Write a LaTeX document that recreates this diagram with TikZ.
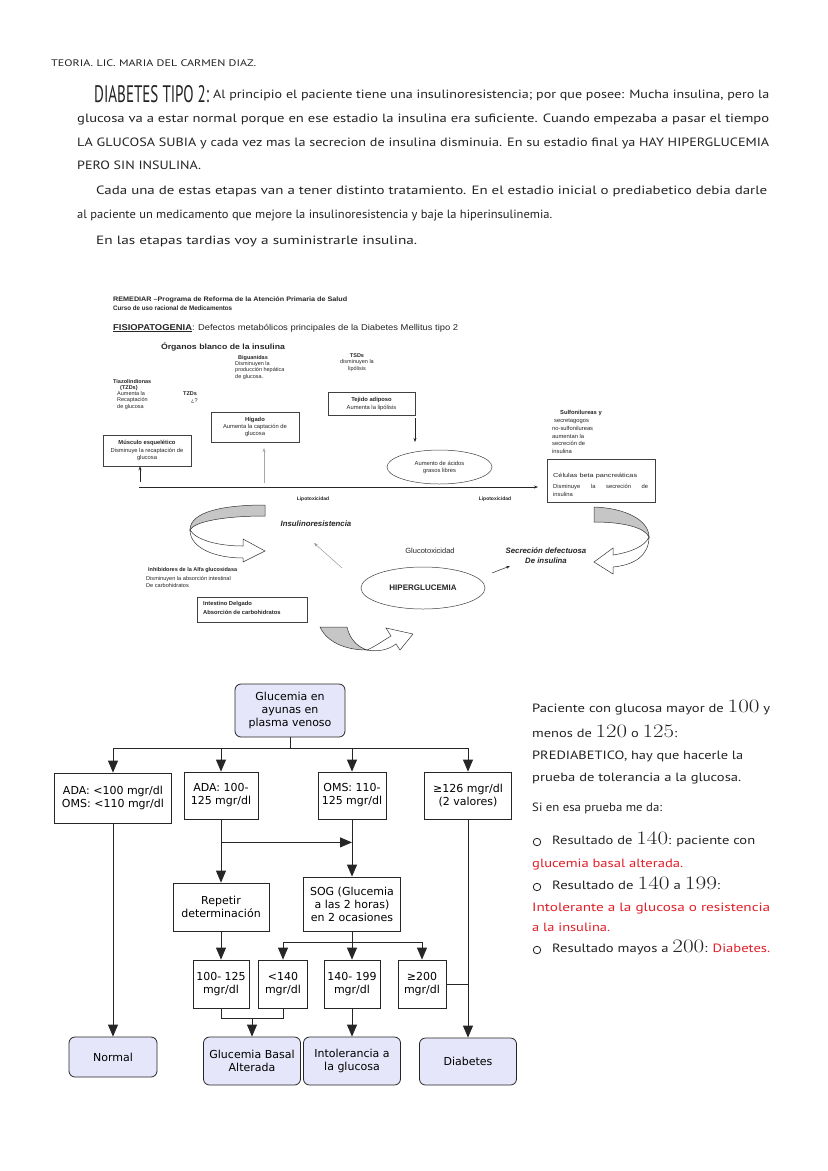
\documentclass[tikz,border=0pt]{standalone}
\usepackage{fontspec}
\usepackage{graphicx}
\newfontfamily\hw{PT Sans}
\newfontfamily\ar{Liberation Sans}
\newfontfamily\dv{DejaVu Sans}
\usetikzlibrary{arrows.meta,shapes.geometric}
\definecolor{lav}{RGB}{230,230,250}
\definecolor{hwred}{RGB}{225,30,40}
\definecolor{ink}{RGB}{35,35,35}
\newcommand\nm[1]{{\rmfamily\fontsize{19}{19}\selectfont #1}}
\newcommand\fitw[2]{\resizebox{#1pt}{\height}{#2}}
\begin{document}
\begin{tikzpicture}[x=1pt,y=-1pt,
 hwt/.style={inner sep=0pt, anchor=base west, font=\hw\fontsize{12}{14}\selectfont, text=ink},
 art/.style={inner sep=0pt, text=black!85, font=\ar\fontsize{5.5}{6.6}\selectfont},
 artb/.style={art, font=\ar\bfseries\fontsize{5.5}{6.6}\selectfont},
 abox/.style={draw=black!75, line width=0.5pt, inner sep=0pt, align=center, text=black!85, font=\ar\fontsize{5.5}{7}\selectfont},
 rib/.style={draw=black!80, line width=0.5pt},
 marr/.style={draw=black!85, line width=0.5pt, -{Stealth[length=4pt,width=3pt]}},
 fc/.style={draw=black!85, line width=0.8pt, fill=white, inner sep=0pt, align=center, font=\dv\fontsize{11}{13}\selectfont},
 fcr/.style={fc, rounded corners=6pt, fill=lav},
 fl/.style={draw=black!85, line width=0.8pt},
 arr/.style={fl, -{Triangle[length=12pt,width=10pt]}}
]
\useasboundingbox (0,0) rectangle (828,1171);
\fill[white] (0,0) rectangle (828,1171);

% ---------------- top handwritten text ----------------
\node[hwt] (hdr) at (51,66) {\fitw{205}{\fontsize{9.5}{10}\selectfont TEORIA. LIC. MARIA DEL CARMEN DIAZ.}};
\node[hwt] (dt) at (94,102) {\resizebox{115pt}{17pt}{DIABETES TIPO 2:}};
\node[hwt] (l1) at (213,98) {\fitw{556}{Al principio el paciente tiene una insulinoresistencia; por que posee: Mucha insulina, pero la}};
\node[hwt] (l2) at (77,122) {\fitw{692}{glucosa va a estar normal porque en ese estadio la insulina era suficiente. Cuando empezaba a pasar el tiempo}};
\node[hwt] (l3) at (77,146) {\fitw{692}{LA GLUCOSA SUBIA y cada vez mas la secrecion de insulina disminuia. En su estadio final ya HAY HIPERGLUCEMIA}};
\node[hwt] (l4) at (77,169) {\fitw{124}{PERO SIN INSULINA.}};
\node[hwt] (p2a) at (96,194) {\fitw{671}{Cada una de estas etapas van a tener distinto tratamiento. En el estadio inicial o prediabetico debia darle}};
\node[hwt] (p2b) at (77,218) {\fitw{475}{al paciente un medicamento que mejore la insulinoresistencia y baje la hiperinsulinemia.}};
\node[hwt] (p3) at (96,244) {\fitw{321}{En las etapas tardias voy a suministrarle insulina.}};

% ---------------- middle figure (REMEDIAR) ----------------
\node[art, anchor=west, font=\ar\bfseries\fontsize{6.5}{7.5}\selectfont] (rem1) at (113,300) {\fitw{234}{REMEDIAR –Programa de Reforma de la Atención Primaria de Salud}};
\node[art, anchor=west, font=\ar\bfseries\fontsize{6.5}{7.5}\selectfont] (rem2) at (113,308) {\fitw{119}{Curso de uso racional de Medicamentos}};
\node[art, anchor=west, font=\ar\fontsize{8.5}{10}\selectfont] (fisio) at (113,328) {\fitw{345}{\textbf{\underline{FISIOPATOGENIA}}: Defectos metabólicos principales de la Diabetes Mellitus tipo 2}};
\node[art, font=\ar\bfseries\fontsize{7.6}{9}\selectfont] (org) at (223,347) {\fitw{124}{Órganos blanco de la insulina}};

\node[artb] (big) at (253,358) {Biguanidas};
\node[art, anchor=west, align=left] (bigt) at (235,370.5) {Disminuyen la\\producción hepática\\de glucosa.};
\node[art, align=center] (tsd) at (357,362.5) {\textbf{TSDs}\\disminuyen la\\lipólisis};
\node[artb, anchor=west] (tia) at (113,382) {Tiazolindionas};
\node[artb, anchor=west] (tia2) at (120,388) {(TZDs)};
\node[art, anchor=west, align=left] (tia3) at (117,400.5) {Aumenta la\\Recaptación\\de glucosa};
\node[artb, anchor=west] (tzd) at (183,394) {TZDs};
\node[art, anchor=west] (qq) at (191,401) {¿?};

\node[abox, minimum width=87, minimum height=23, font=\ar\fontsize{5.8}{8}\selectfont] (tej) at (371.5,403.5) {\textbf{Tejido adiposo}\\Aumenta la lipólisis};
\node[abox, minimum width=88, minimum height=30, font=\ar\fontsize{5.8}{7}\selectfont] (hig) at (255,427) {\textbf{Hígado}\\Aumenta la captación de\\glucosa};
\node[abox, minimum width=88, minimum height=31, font=\ar\fontsize{5.8}{7.5}\selectfont] (mus) at (147,450.5) {\textbf{Músculo esquelético}\\Disminuye la recaptación de\\glucosa};
\node[abox, ellipse, minimum width=105, minimum height=34, font=\ar\fontsize{5.8}{7}\selectfont] (agl) at (439.5,467) {Aumento de ácidos\\grasos libres};

\node[art, align=left, anchor=west, font=\ar\fontsize{5.8}{7.9}\selectfont] (sulf) at (552,432) {\hspace*{8pt}\textbf{Sulfonilureas y}\\\hspace*{2pt}secretagogos\\no-sulfonilureas\\aumentan la\\secreción de\\insulina};
\node[abox, minimum width=108, minimum height=43] (cel) at (601,480.5) {};
\node[art, anchor=west, font=\ar\fontsize{5.8}{7}\selectfont] (cel1) at (553,476) {\fitw{84}{Células beta pancreáticas}};
\node[art, anchor=west, font=\ar\fontsize{5.8}{7}\selectfont] (cel2) at (553,487) {\makebox[95pt][s]{Disminuye la secreción de}};
\node[art, anchor=west, font=\ar\fontsize{5.8}{7}\selectfont] (cel3) at (553,494) {insulina};

\coordinate (hl0) at (139,487);
\coordinate (hl1) at (538,487);
\draw[marr] (hl0) -- (hl1);
\coordinate (ma0) at (140,482);
\draw[marr] (ma0) -- (mus.south -| ma0);
\coordinate (ha0) at (264,483);
\coordinate (ha1) at (264,448);
\draw[marr, draw=gray!70] (ha0) -- (ha1);
\coordinate (ta0) at (415,418);
\coordinate (ta1) at (415,442);
\draw[marr] (ta0) -- (ta1);

\node[artb, font=\ar\bfseries\fontsize{5}{6}\selectfont] (lip1) at (313,499) {Lipotoxicidad};
\node[artb, font=\ar\bfseries\fontsize{5}{6}\selectfont] (lip2) at (495,499) {Lipotoxicidad};
\node[art, font=\ar\bfseries\itshape\fontsize{7.8}{9}\selectfont] (ires) at (316,524) {Insulinoresistencia};

\node[artb, anchor=west] (inh) at (148,570) {Inhibidores de la Alfa glucosidasa};
\node[art, anchor=west, align=left, font=\ar\fontsize{5.6}{7}\selectfont] (inh2) at (146,581.5) {Disminuyen la absorción intestinal\\De carbohidratos};
\node[abox, minimum width=110, minimum height=25] (int) at (252,609.5) {};
\node[artb, anchor=west, align=left, font=\ar\bfseries\fontsize{5.8}{9}\selectfont] (intt) at (203,607.5) {Intestino Delgado\\Absorción de carbohidratos};

\node[abox, ellipse, minimum width=124, minimum height=42, font=\ar\bfseries\fontsize{8}{9}\selectfont] (hip) at (423,588) {HIPERGLUCEMIA};
\node[art, font=\ar\fontsize{7.5}{9}\selectfont] (gtx) at (430,551) {Glucotoxicidad};
\node[art, align=center, font=\ar\bfseries\itshape\fontsize{7.8}{10}\selectfont] (sec) at (546,556) {Secreción defectuosa\\De insulina};

\coordinate (da0) at (342,568);
\coordinate (da1) at (314,543);
\draw[marr, draw=gray!80] (da0) -- (da1);
\coordinate (sa0) at (492,573);
\coordinate (sa1) at (510,566);
\draw[marr] (sa0) -- (sa1);

% ribbon arrows
\filldraw[rib, fill=gray!45] (265,505) .. controls (222,505) and (190,512) .. (190,530) .. controls (194,522) and (222,516) .. (265,516) -- cycle;
\filldraw[rib, fill=white] (190,530) .. controls (190,548) and (215,558) .. (243,558) -- (243,562) -- (265,551) -- (243,539) -- (243,546) .. controls (218,546) and (196,540) .. (190,530) -- cycle;

\filldraw[rib, fill=gray!45] (594,507) .. controls (625,508) and (649,520) .. (649,537) .. controls (645,528) and (625,522) .. (594,522) -- cycle;
\filldraw[rib, fill=white] (649,537) .. controls (649,555) and (635,565) .. (613,567) -- (613,574) -- (594,562) -- (613,548) -- (613,555) .. controls (632,552) and (645,546) .. (649,537) -- cycle;

\filldraw[rib, fill=gray!45] (320,627) -- (347,627) .. controls (350,640) and (358,647) .. (367,650) .. controls (345,650) and (327,642) .. (320,627) -- cycle;
\filldraw[rib, fill=white] (367,650) .. controls (376,646) and (384,640) .. (391,636) -- (386,628) -- (413,634) -- (400,650) -- (396,644) .. controls (388,650) and (378,652) .. (367,650) -- cycle;

% ---------------- flowchart ----------------
\node[fcr, minimum width=110, minimum height=53] (top) at (290,710.5) {Glucemia en\\ayunas en\\plasma venoso};
\node[fc, minimum width=117, minimum height=50] (b1) at (113,798) {ADA: <100 mgr/dl\\OMS: <110 mgr/dl};
\node[fc, minimum width=74, minimum height=47] (b2) at (221,795.5) {ADA: 100-\\125 mgr/dl};
\node[fc, minimum width=68, minimum height=47] (b3) at (352,795.5) {OMS: 110-\\125 mgr/dl};
\node[fc, minimum width=87, minimum height=47] (b4) at (468,795.5) {≥126 mgr/dl\\(2 valores)};
\node[fc, minimum width=96, minimum height=48] (rep) at (221,907) {Repetir\\determinación};
\node[fc, minimum width=97, minimum height=54] (sog) at (352,904) {SOG (Glucemia\\a las 2 horas)\\en 2 ocasiones};
\node[fc, minimum width=56, minimum height=48] (r1) at (221,984) {100- 125\\mgr/dl};
\node[fc, minimum width=49, minimum height=48] (r2) at (283,984) {<140\\mgr/dl};
\node[fc, minimum width=56, minimum height=48] (r3) at (352,984) {140- 199\\mgr/dl};
\node[fc, minimum width=48, minimum height=48] (r4) at (422,984) {≥200\\mgr/dl};
\node[fcr, minimum width=88, minimum height=40] (nor) at (113,1057) {Normal};
\node[fcr, minimum width=97, minimum height=48] (gba) at (252,1061) {Glucemia Basal\\Alterada};
\node[fcr, minimum width=97, minimum height=48] (itg) at (352,1061) {Intolerancia a\\la glucosa};
\node[fcr, minimum width=97, minimum height=47] (dia) at (468,1061.5) {Diabetes};

\path (top.south) ++(0,11) coordinate (s1);
\draw[fl] (top.south) -- (s1);
\draw[fl] (b1.north |- s1) -- (b4.north |- s1);
\foreach \b in {b1,b2,b3,b4} \draw[arr] (\b.north |- s1) -- (\b.north);
\draw[arr] (b1.south) -- (nor.north);
\draw[arr] (b2.south) -- (rep.north);
\path (b2.south) ++(0,23) coordinate (j1);
\draw[arr] (j1) -- (j1 -| b3.south);
\draw[arr] (b3.south) -- (sog.north);
\draw[arr] (rep.south) -- (r1.north);
\path (sog.south) ++(0,11) coordinate (s2);
\draw[fl] (sog.south) -- (s2);
\draw[fl] (r2.north |- s2) -- (r4.north |- s2);
\foreach \r in {r2,r3,r4} \draw[arr] (\r.north |- s2) -- (\r.north);
\path (r1.south) ++(0,10) coordinate (s3);
\draw[fl] (r1.south) -- (s3) -- (s3 -| r2.south) -- (r2.south);
\draw[arr] (s3 -| gba.north) -- (gba.north);
\draw[arr] (r3.south) -- (itg.north);
\draw[fl] (r4.east) -- (r4.east -| b4.south);
\draw[arr] (b4.south) -- (dia.north);

% ---------------- right handwritten notes ----------------
\node[hwt] (n1) at (532,712) {\fitw{238}{Paciente con glucosa mayor de \nm{100} y}};
\node[hwt] (n2) at (532,737) {\fitw{145}{menos de \nm{120} o \nm{125}:}};
\node[hwt] (n3) at (532,759) {\fitw{211}{PREDIABETICO, hay que hacerle la}};
\node[hwt] (n4) at (532,781) {\fitw{209}{prueba de tolerancia a la glucosa.}};
\node[hwt] (n5) at (532,811) {\fitw{130}{Si en esa prueba me da:}};
\node[draw=ink, line width=0.8pt, circle, minimum size=7.5pt, inner sep=0pt] (c1) at (537,842) {};
\node[hwt] (n6) at (552,844) {\fitw{203}{Resultado de \nm{140}: paciente con}};
\node[hwt, text=hwred] (n7) at (532,867) {\fitw{151}{glucemia basal alterada.}};
\node[draw=ink, line width=0.8pt, circle, minimum size=7.5pt, inner sep=0pt] (c2) at (537,887) {};
\node[hwt] (n8) at (552,889) {\fitw{168}{Resultado de \nm{140} a \nm{199}:}};
\node[hwt, text=hwred] (n9) at (532,911) {\fitw{238}{Intolerante a la glucosa o resistencia}};
\node[hwt, text=hwred] (n10) at (532,931) {\fitw{78}{a la insulina.}};
\node[draw=ink, line width=0.8pt, circle, minimum size=7.5pt, inner sep=0pt] (c3) at (537,950) {};
\node[hwt] (n11) at (552,952) {\fitw{218}{Resultado mayos a \nm{200}: \textcolor{hwred}{Diabetes.}}};
\end{tikzpicture}
\end{document}
